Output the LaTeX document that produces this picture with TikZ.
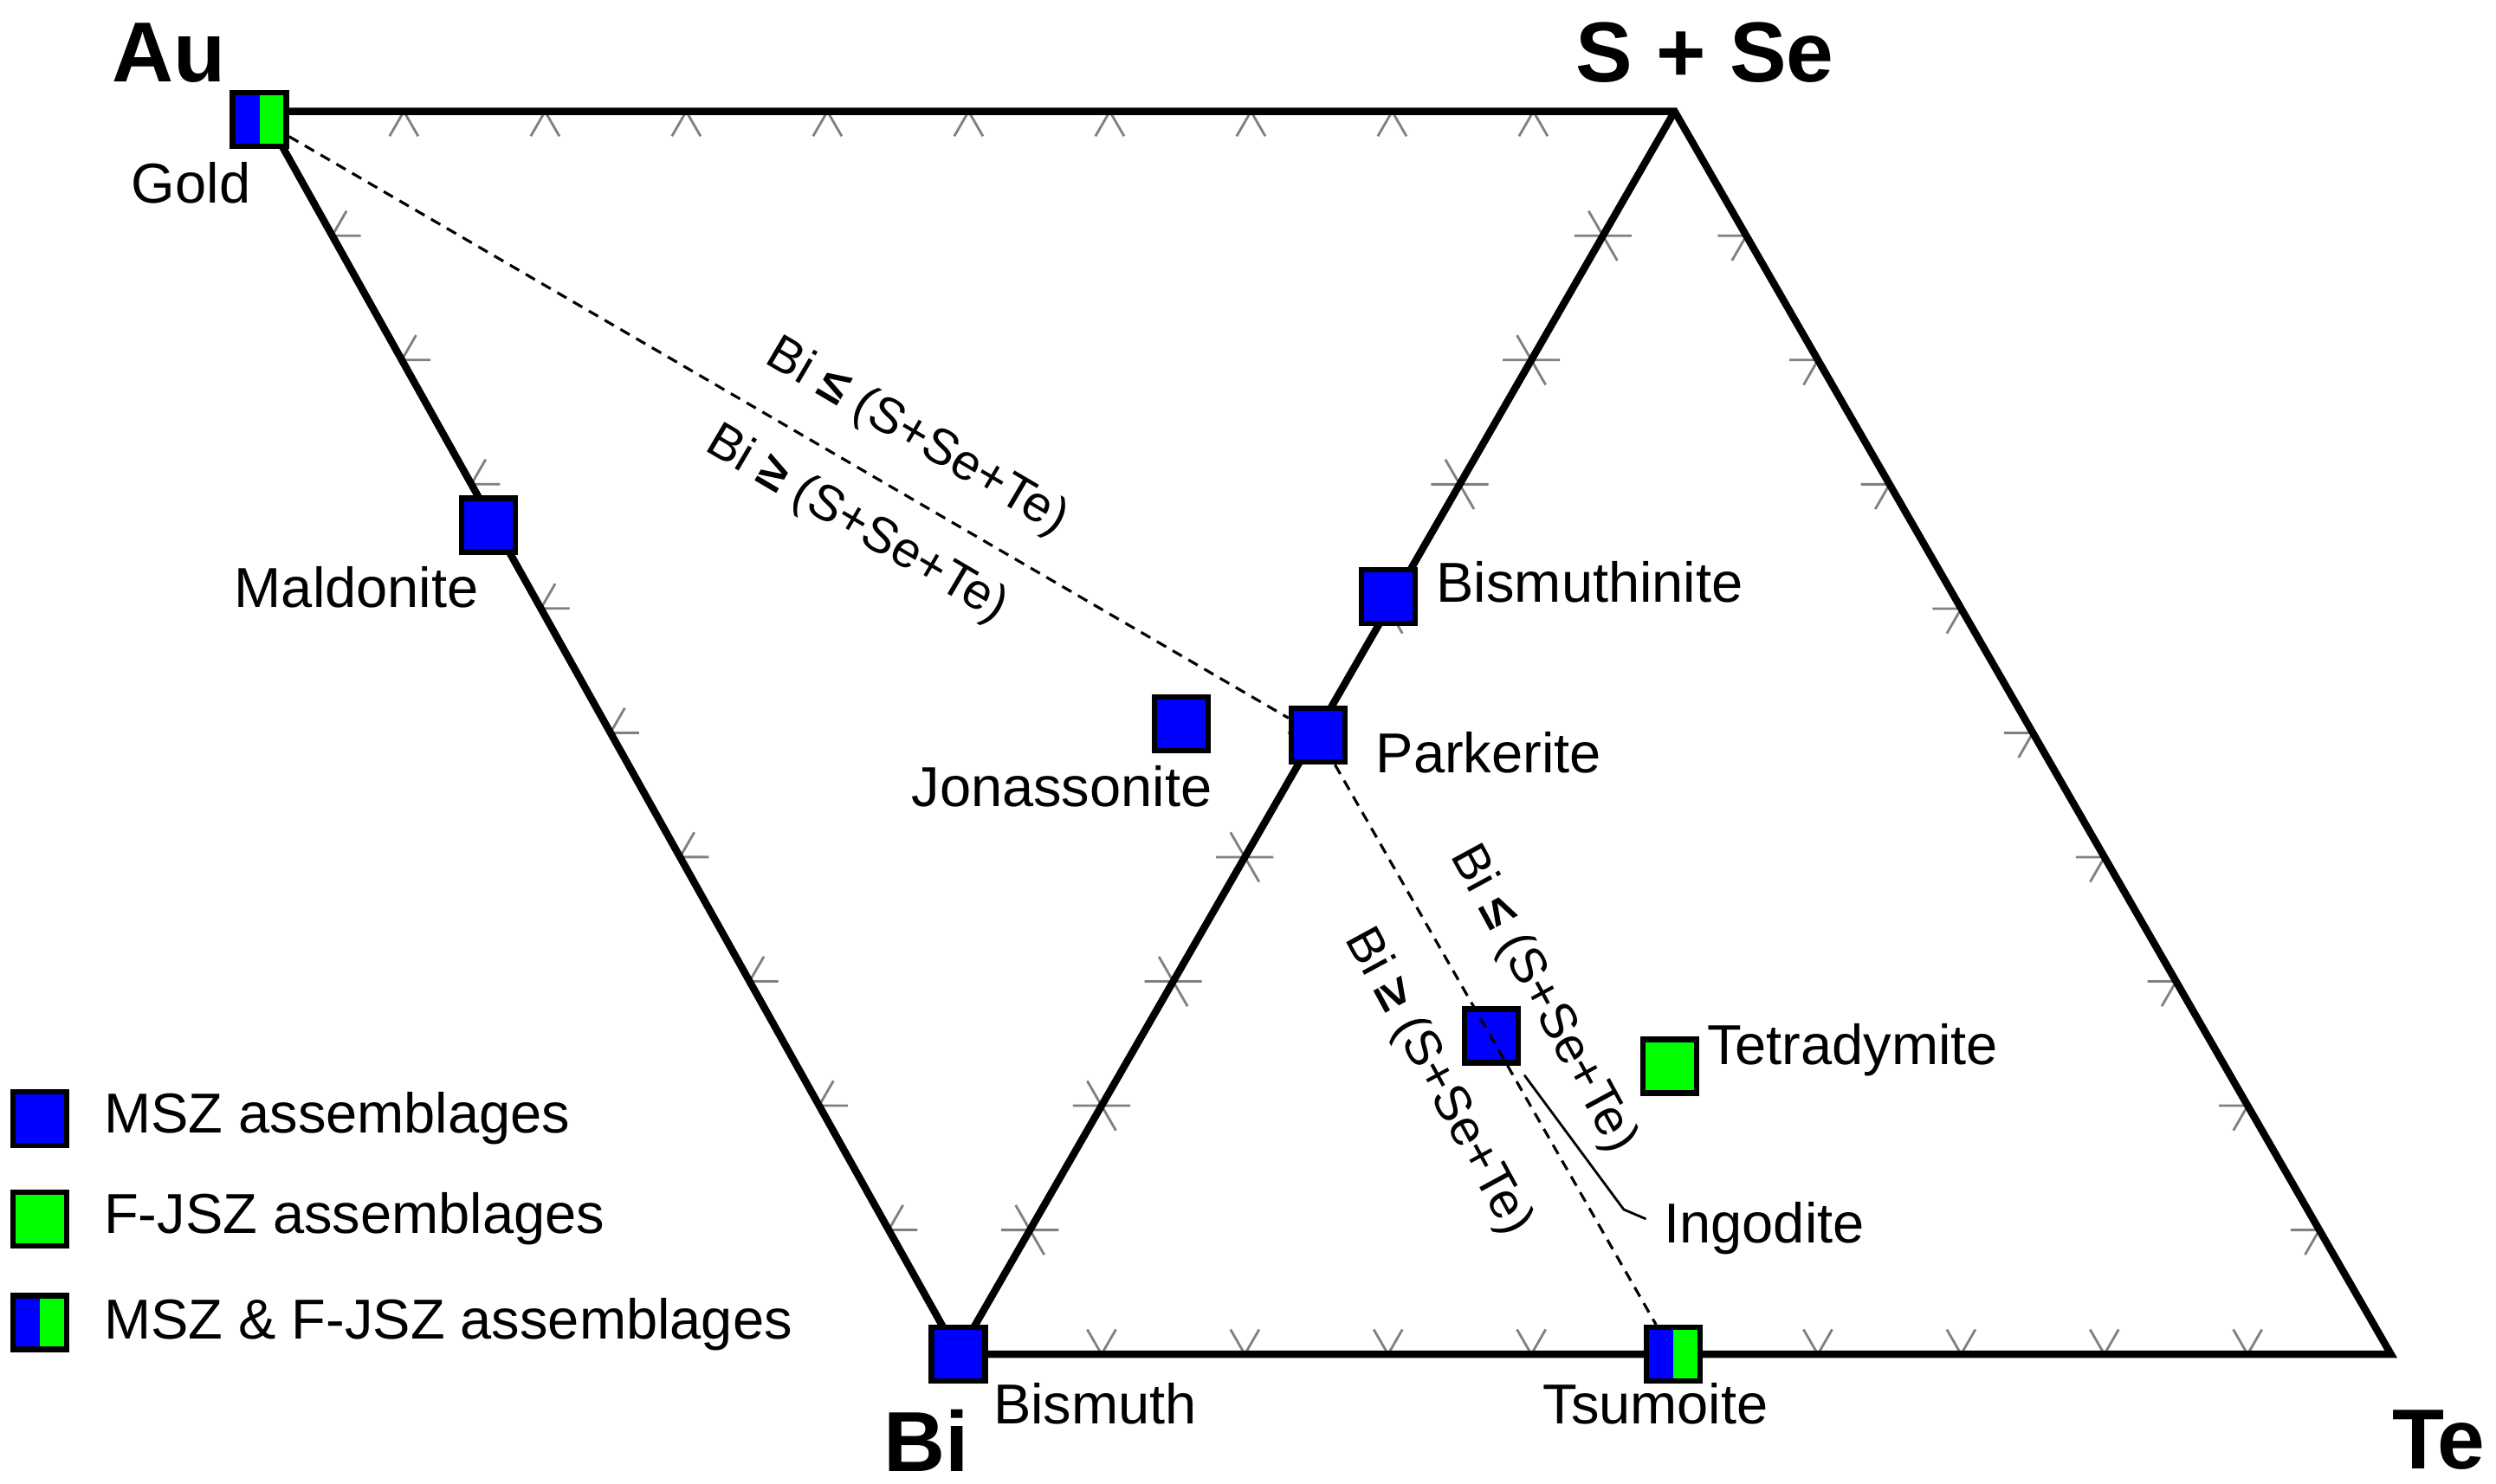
\documentclass[tikz,border=0pt]{standalone}
\usepackage{fontspec}
\setmainfont{Liberation Sans}
\usetikzlibrary{calc}
\begin{document}
\begin{tikzpicture}[x=0.01838cm,y=-0.01838cm,
  edge/.style={line width=2.4pt,line join=miter},
  tick/.style={gray,line width=0.8pt},
  dl/.style={dashed,line width=0.9pt,dash pattern=on 3.5pt off 2.5pt},
  mk/.style={draw=black,line width=1.8pt,minimum size=0.62cm,inner sep=0pt,fill=blue},
  mkg/.style={mk,fill=green},
  mkb/.style={mk,fill=none,path picture={
     \fill[blue] (path picture bounding box.south west) rectangle (path picture bounding box.north);
     \fill[green] (path picture bounding box.south) rectangle (path picture bounding box.north east);}},
  lab/.style={font=\fontsize{18.5}{20}\selectfont,inner sep=0pt},
  big/.style={font=\fontsize{28}{30}\selectfont\bfseries,inner sep=0pt},
  rl/.style={font=\fontsize{16.5}{18}\selectfont,inner sep=0pt}]
\useasboundingbox (0,0) rectangle (1568,932.5);
\coordinate (Au) at (165,70);
\coordinate (SS) at (1052,70);
\coordinate (Bi) at (602,851);
\coordinate (Te) at (1502,851);
% ticks
\foreach \t in {0.1,0.2,...,0.95}{
  \draw[tick] ($(Au)!\t!(Bi)$) -- ++(0:18) ($(Au)!\t!(Bi)$) -- ++(-60:18);
  \draw[tick] ($(Au)!\t!(SS)$) -- ++(120:18) ($(Au)!\t!(SS)$) -- ++(60:18);
  \draw[tick] ($(Bi)!\t!(Te)$) -- ++(-60:18) ($(Bi)!\t!(Te)$) -- ++(-120:18);
  \draw[tick] ($(Te)!\t!(SS)$) -- ++(180:18) ($(Te)!\t!(SS)$) -- ++(120:18);
  \draw[tick] ($(Bi)!\t!(SS)$) -- ++(0:18) ($(Bi)!\t!(SS)$) -- ++(180:18)
              ($(Bi)!\t!(SS)$) -- ++(-120:18) ($(Bi)!\t!(SS)$) -- ++(60:18);
}
\draw[edge] (Au) -- (SS) -- (Te) -- (Bi) -- cycle;
\draw[edge] (Bi) -- (SS);
% markers
\node[mkb] (gold) at (163,75) {};
\node[mk] (mald) at (307,330) {};
\node[mk] (jon) at (742,455) {};
\node[mk] (park) at (828,462) {};
\node[mk] (bsm) at (872,375) {};
\node[mk] (ing) at (937,651) {};
\node[mkg] (tet) at (1049,670) {};
\node[mkb] (tsu) at (1051,851) {};
\node[mk] (bis) at (602,851) {};
% dashed lines
\draw[dl] (gold) -- (park);
\draw[dl] (park) -- (tsu);
\coordinate (l1) at (1020,760);
\coordinate (l2) at (1034,766);
\draw[line width=0.8pt] (ing.south east) ++(2,6) -- (l1) -- (l2);
% labels
\node[big] at (106,33) {Au};
\node[big] at (1071,33) {S + Se};
\node[big] at (582,905) {Bi};
\node[big] at (1532,905) {Te};
\node[lab] at (120,115) {Gold};
\node[lab] at (224,369) {Maldonite};
\node[lab] at (667,494) {Jonassonite};
\node[lab,anchor=west] at (864,473) {Parkerite};
\node[lab,anchor=west] at (902,366) {Bismuthinite};
\node[lab,anchor=west] at (1072,660) {Tetradymite};
\node[lab,anchor=west] at (1045,772) {Ingodite};
\node[lab] at (1040,882) {Tsumoite};
\node[lab] at (688,882) {Bismuth};
\node[rl,rotate=-30.5] at (576,275) {Bi \textbf{≤} (S+Se+Te)};
\node[rl,rotate=-30.5] at (538,330) {Bi \textbf{≥} (S+Se+Te)};
\node[rl,rotate=-61.5] at (969,628) {Bi \textbf{≤} (S+Se+Te)};
\node[rl,rotate=-61.5] at (903,680) {Bi \textbf{≥} (S+Se+Te)};
% legend
\node[mk] (k1) at (25,703) {};
\node[mkg] (k2) at (25,766) {};
\node[mkb] (k3) at (25,831) {};
\node[lab,anchor=west] at (65,703) {MSZ assemblages};
\node[lab,anchor=west] at (65,766) {F-JSZ assemblages};
\node[lab,anchor=west] at (65,832) {MSZ \& F-JSZ assemblages};
\end{tikzpicture}
\end{document}
